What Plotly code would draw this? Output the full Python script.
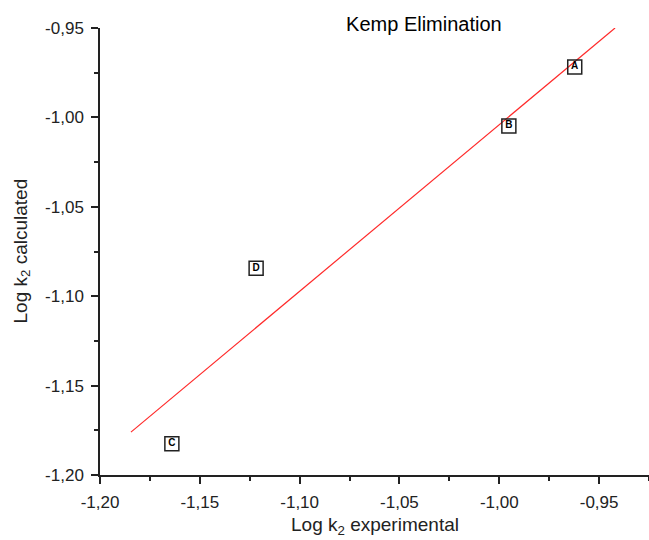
import plotly.graph_objects as go

labels = ["A", "B", "C", "D"]
log_k2_exp = [-0.9622, -0.9952, -1.1640, -1.1218]
log_k2_calc = [-0.9718, -1.0048, -1.1825, -1.0843]

fit_x = [-1.1845, -0.942]
fit_y = [-1.1760, -0.9500]

x_tickvals = [-1.20, -1.15, -1.10, -1.05, -1.00, -0.95]
x_ticktext = ["-1,20", "-1,15", "-1,10", "-1,05", "-1,00", "-0,95"]
y_tickvals = [-1.20, -1.15, -1.10, -1.05, -1.00, -0.95]
y_ticktext = ["-1,20", "-1,15", "-1,10", "-1,05", "-1,00", "-0,95"]

FONT = "Liberation Sans, Arial"

fig = go.Figure()
fig.add_trace(go.Scatter(
    x=fit_x, y=fit_y, mode="lines",
    line=dict(color="#ff2a2a", width=1.2), showlegend=False, hoverinfo="skip"))
fig.add_trace(go.Scatter(
    x=log_k2_exp, y=log_k2_calc, mode="markers+text", text=labels,
    textposition="middle center",
    textfont=dict(family=FONT, size=10, color="black", weight="bold"),
    marker=dict(symbol="square-open", size=14, color="#222", line=dict(width=1.5, color="#222")),
    showlegend=False))

axis_common = dict(
    showgrid=False, zeroline=False, showline=True, linecolor="#222", linewidth=1.5,
    ticks="outside", ticklen=7, tickwidth=1.5, tickcolor="#222", automargin=False,
    ticklabelstandoff=4,
    tickfont=dict(family=FONT, size=17, color="#222"),
    minor=dict(ticks="outside", ticklen=4, tickwidth=1.5, tickcolor="#222",
               tick0=-1.2, dtick=0.025, showgrid=False),
)

fig.update_layout(
    width=649, height=540,
    margin=dict(l=100, r=0, t=28, b=65),
    paper_bgcolor="white", plot_bgcolor="white",
    title=dict(text="Kemp Elimination", x=0.59, xanchor="center", xref="paper",
               y=1 - 24 / 540, yanchor="middle",
               font=dict(family=FONT, size=20, color="black")),
    xaxis=dict(range=[-1.2, -0.925], tickmode="array", tickvals=x_tickvals, ticktext=x_ticktext,
               **axis_common),
    yaxis=dict(range=[-1.2, -0.95], tickmode="array", tickvals=y_tickvals, ticktext=y_ticktext,
               **axis_common),
    font=dict(family=FONT),
    annotations=[
        dict(text="Log k<sub>2</sub> experimental", xref="paper", yref="paper",
             x=0.5, y=-51 / 447, xanchor="center", yanchor="middle", showarrow=False,
             font=dict(family=FONT, size=19, color="#222")),
        dict(text="Log k<sub>2</sub> calculated", xref="paper", yref="paper",
             x=-79 / 549, y=0.5, xanchor="center", yanchor="middle", showarrow=False,
             textangle=-90, font=dict(family=FONT, size=19, color="#222")),
    ],
)

fig.write_html("out.html", config={"displayModeBar": False},
               post_script="document.body.style.margin='0';document.body.style.overflow='hidden';")
